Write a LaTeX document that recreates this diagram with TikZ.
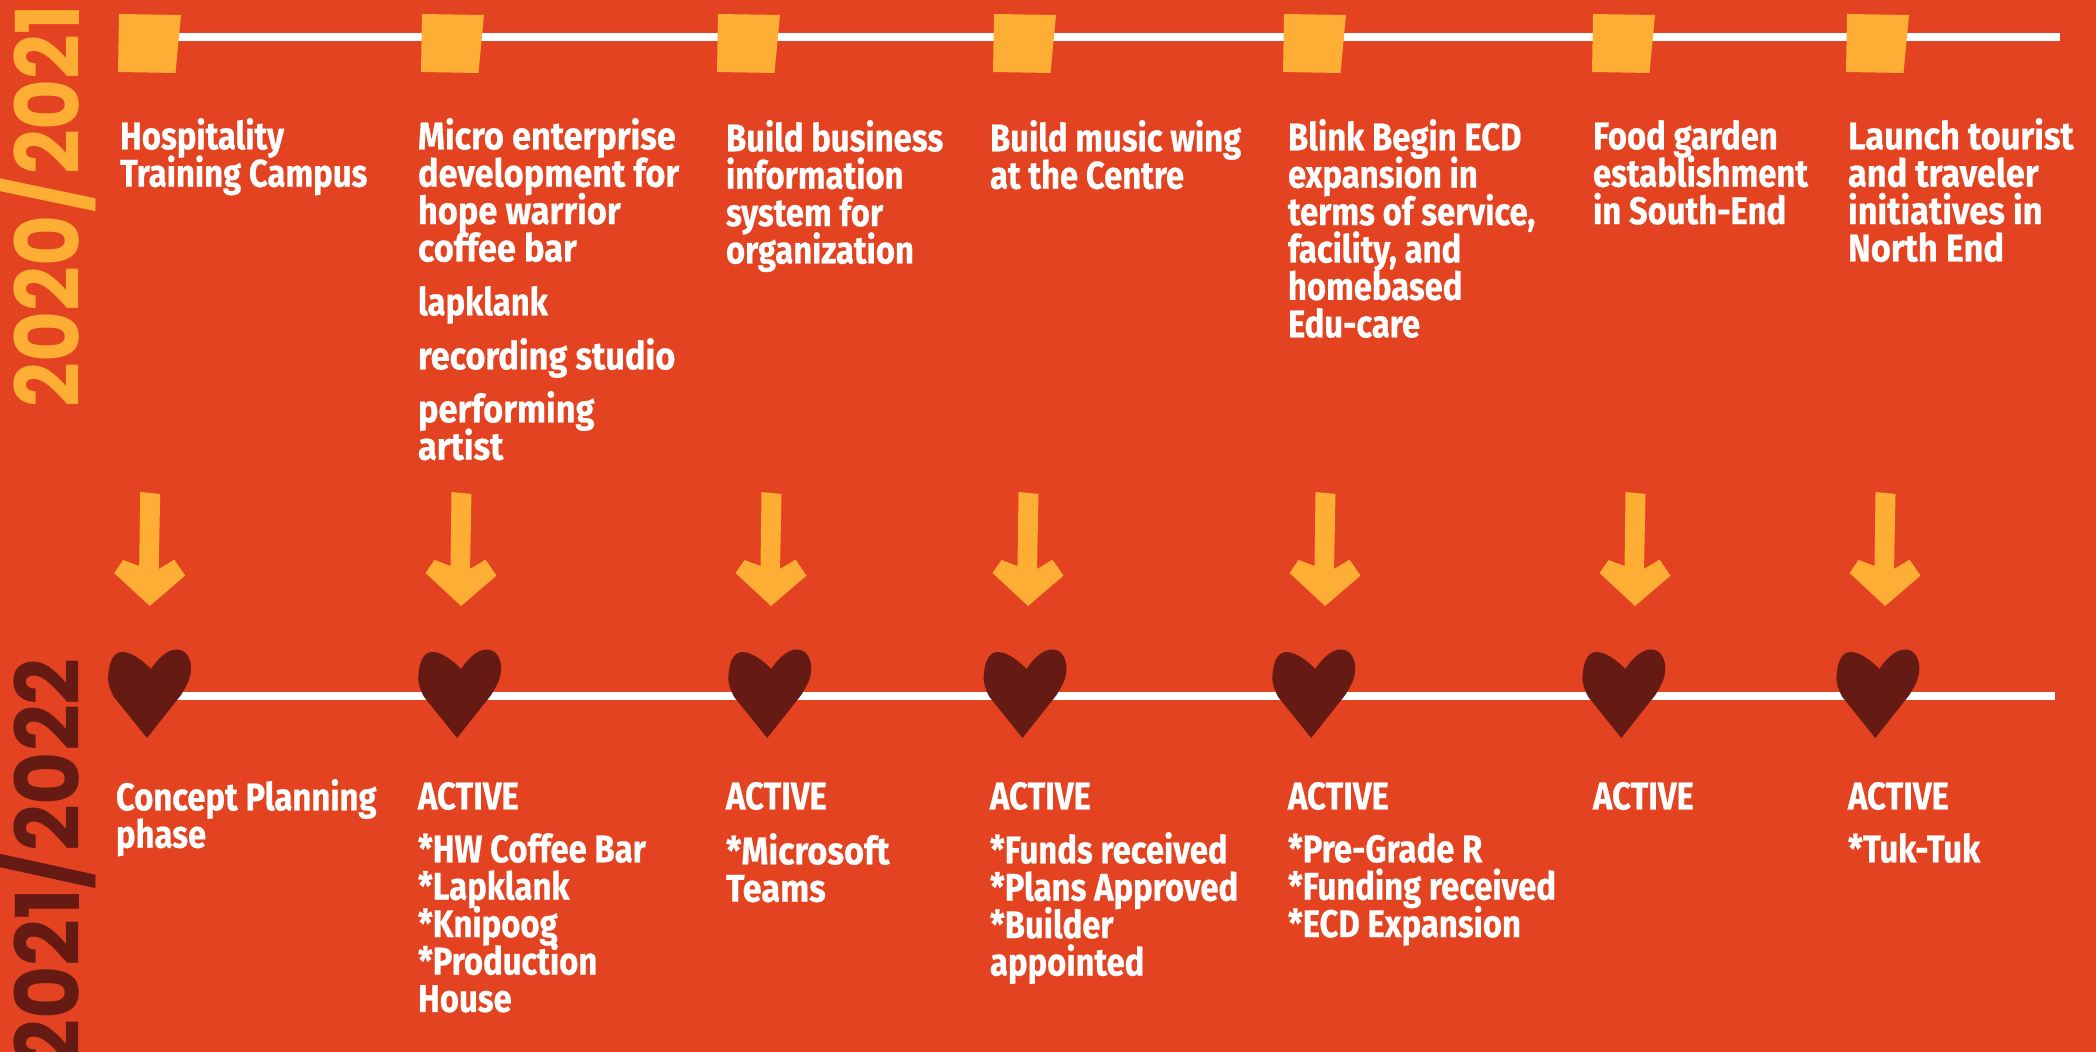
\documentclass[tikz,border=0pt]{standalone}
\usepackage{fontspec}
\newfontfamily\bodyf{Fira Sans Bold}[FakeStretch=0.85,FakeBold=0.5]
\newfontfamily\bodyw{Fira Sans Bold}[FakeStretch=0.89,FakeBold=0.5]
\newfontfamily\yearf{Poppins Bold}[FakeStretch=0.89]
\newfontfamily\yearw{Poppins Bold}[FakeStretch=0.93]
\AtBeginDocument{\setlength{\lineskiplimit}{-30pt}}
\definecolor{bgred}{HTML}{E34320}
\definecolor{amber}{HTML}{FFAE35}
\definecolor{maroon}{HTML}{651A14}
\tikzset{x=0.5pt,y=-0.5pt,
  txt/.style={anchor=north west,inner sep=0pt,outer sep=0pt,text=white,align=left,
    font=\bodyf\fontsize{19.3}{18.7}\selectfont},
  wide/.style={font=\bodyw\fontsize{19.3}{18.7}\selectfont},
  year/.style={rotate=90,inner sep=0pt},
  rail/.style={draw=white,line width=4pt}}
\newcommand{\sq}[1]{\fill[amber] (#1+1,14)--(#1+63,15)--(#1+57.5,73)--(#1,72)--cycle;}
\newcommand{\arr}[1]{\fill[amber] (#1-9.5,492)--(#1+10.5,494)--(#1+9,569)--(#1+24.5,559.6)--(#1+35.5,575.6)--(#1,606)--(#1-35.5,573)--(#1-26.5,560)--(#1-10.5,566)--cycle;}
\newcommand{\hrt}[1]{%
  \fill[maroon] (#1+38.7,738) -- (#1+5.7,697)
    .. controls (#1+2,690) and (#1-1,683) .. (#1,675)
    .. controls (#1+1,660) and (#1+6,652) .. (#1+14,652)
    .. controls (#1+24,652) and (#1+36,662) .. (#1+42.7,669)
    .. controls (#1+48,661) and (#1+58,649) .. (#1+69,649.5)
    .. controls (#1+79,650) and (#1+83,660) .. (#1+82.7,670)
    .. controls (#1+82,680) and (#1+78,686) .. (#1+72.7,695) -- cycle;}
\begin{document}
\begin{tikzpicture}
\useasboundingbox (0,0) rectangle (2096,1052);
\clip (0,0) rectangle (2096,1052);
\fill[bgred] (0,0) rectangle (2096,1052);
\coordinate (e1) at (2060,37);
\coordinate (e2) at (2055,696);
\foreach \n/\x in {s1/118,s2/421,s3/717,s4/993,s5/1283,s6/1592,s7/1846}{\coordinate (\n) at (\x+30,37);}
\foreach \n/\x in {h1/108.3,h2/418.4,h3/728.5,h4/983.8,h5/1272.5,h6/1582.6,h7/1836.6}{\coordinate (\n) at (\x+40,696);}
\draw[rail] (s1)--(s2)--(s3)--(s4)--(s5)--(s6)--(s7)--(e1);
\draw[rail] (h1)--(h2)--(h3)--(h4)--(h5)--(h6)--(h7)--(e2);
\foreach \x in {118,421,717,993,1283,1592,1846}{\sq{\x}}
\foreach \x in {149.7,461,771,1028,1325,1635,1885}{\arr{\x}}
\foreach \x in {108.3,418.4,728.5,983.8,1272.5,1582.6,1836.6}{\hrt{\x}}
\node[year,text=amber,font=\yearf\fontsize{44}{44}\selectfont] (y1) at (46,206) {2020\hspace{0.03em}/\hspace{0.03em}2021};
\node[year,text=maroon,anchor=east,font=\yearw\fontsize{44}{44}\selectfont] (y2) at (46,658) {2021/2022};
% top texts
\node[txt] (a1) at (120,118) {Hospitality\\Training Campus};
\node[txt,wide] (a2) at (418,118) {Micro enterprise\\development for\\hope warrior\\coffee bar};
\node[txt] (a2b) at (418,286) {lapklank};
\node[txt,wide] (a2c) at (418,338) {recording studio};
\node[txt,wide] (a2d) at (418,391) {performing\\artist};
\node[txt] (a3) at (726,120) {Build business\\information\\system for\\organization};
\node[txt] (a4) at (990,120) {Build music wing\\at the Centre};
\node[txt] (a5) at (1288,119) {Blink Begin ECD\\expansion in\\terms of service,\\facility, and\\homebased\\Edu-care};
\node[txt] (a6) at (1593,120) {Food garden\\establishment\\in South-End};
\node[txt,wide] (a7) at (1848,118) {Launch tourist\\and traveler\\initiatives in\\North End};
% bottom texts
\node[txt] (b1) at (116,779) {Concept Planning\\phase};
\node[txt] (b2) at (418,782) {ACTIVE};
\node[txt] (b2b) at (418,833) {*HW Coffee Bar\\*Lapklank\\*Knipoog\\*Production\\House};
\node[txt] (b3) at (726,782) {ACTIVE};
\node[txt,wide] (b3b) at (726,833) {*Microsoft\\Teams};
\node[txt] (b4) at (990,782) {ACTIVE};
\node[txt] (b4b) at (990,832) {*Funds received\\*Plans Approved\\*Builder\\appointed};
\node[txt] (b5) at (1288,782) {ACTIVE};
\node[txt] (b5b) at (1288,833) {*Pre-Grade R\\*Funding received\\*ECD Expansion};
\node[txt] (b6) at (1593,782) {ACTIVE};
\node[txt] (b7) at (1848,782) {ACTIVE};
\node[txt] (b7b) at (1848,833) {*Tuk-Tuk};
\end{tikzpicture}
\end{document}
